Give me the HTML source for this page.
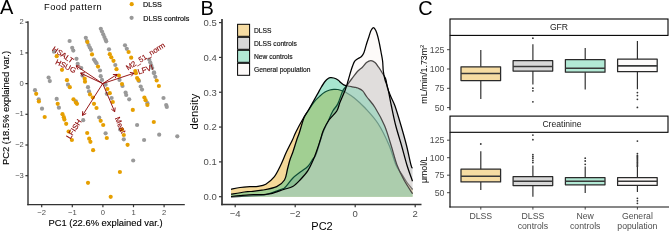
<!DOCTYPE html>
<html><head><meta charset="utf-8"><style>
html,body{margin:0;padding:0;background:#fff;overflow:hidden;}
svg{display:block;will-change:transform;}
text{font-family:"Liberation Sans", sans-serif;}
</style></head><body>
<svg width="669" height="231" viewBox="0 0 669 231">
<rect width="669" height="231" fill="#fff"/>
<text x="0.00" y="14.40" font-size="20" fill="#000" text-anchor="start" >A</text>
<text x="44.00" y="9.70" font-size="9.3" fill="#000" text-anchor="start" textLength="57.6" lengthAdjust="spacing">Food pattern</text>
<circle cx="131.7" cy="4.2" r="2.1" fill="#E69F00"/>
<circle cx="131.6" cy="17.8" r="2.1" fill="#999999"/>
<text x="143.10" y="7.20" font-size="7.2" fill="#111" text-anchor="start" stroke="#111" stroke-width="0.2">DLSS</text>
<text x="143.30" y="20.70" font-size="7.2" fill="#111" text-anchor="start" stroke="#111" stroke-width="0.2">DLSS controls</text>
<line x1="28.00" y1="21.30" x2="28.00" y2="205.30" stroke="#333333" stroke-width="1.4" />
<line x1="27.30" y1="204.60" x2="184.80" y2="204.60" stroke="#333333" stroke-width="1.4" />
<line x1="25.40" y1="22.20" x2="28.00" y2="22.20" stroke="#333333" stroke-width="1.2" />
<text x="23.80" y="24.30" font-size="7.6" fill="#4D4D4D" text-anchor="end" >2</text>
<line x1="25.40" y1="52.90" x2="28.00" y2="52.90" stroke="#333333" stroke-width="1.2" />
<text x="23.80" y="55.00" font-size="7.6" fill="#4D4D4D" text-anchor="end" >1</text>
<line x1="25.40" y1="83.60" x2="28.00" y2="83.60" stroke="#333333" stroke-width="1.2" />
<text x="23.80" y="85.70" font-size="7.6" fill="#4D4D4D" text-anchor="end" >0</text>
<line x1="25.40" y1="114.30" x2="28.00" y2="114.30" stroke="#333333" stroke-width="1.2" />
<text x="23.80" y="116.40" font-size="7.6" fill="#4D4D4D" text-anchor="end" >−1</text>
<line x1="25.40" y1="145.00" x2="28.00" y2="145.00" stroke="#333333" stroke-width="1.2" />
<text x="23.80" y="147.10" font-size="7.6" fill="#4D4D4D" text-anchor="end" >−2</text>
<line x1="25.40" y1="175.70" x2="28.00" y2="175.70" stroke="#333333" stroke-width="1.2" />
<text x="23.80" y="177.80" font-size="7.6" fill="#4D4D4D" text-anchor="end" >−3</text>
<line x1="41.70" y1="204.60" x2="41.70" y2="207.20" stroke="#333333" stroke-width="1.2" />
<text x="41.70" y="215.20" font-size="7.6" fill="#4D4D4D" text-anchor="middle" >−2</text>
<line x1="72.30" y1="204.60" x2="72.30" y2="207.20" stroke="#333333" stroke-width="1.2" />
<text x="72.30" y="215.20" font-size="7.6" fill="#4D4D4D" text-anchor="middle" >−1</text>
<line x1="102.90" y1="204.60" x2="102.90" y2="207.20" stroke="#333333" stroke-width="1.2" />
<text x="102.90" y="215.20" font-size="7.6" fill="#4D4D4D" text-anchor="middle" >0</text>
<line x1="133.50" y1="204.60" x2="133.50" y2="207.20" stroke="#333333" stroke-width="1.2" />
<text x="133.50" y="215.20" font-size="7.6" fill="#4D4D4D" text-anchor="middle" >1</text>
<line x1="164.10" y1="204.60" x2="164.10" y2="207.20" stroke="#333333" stroke-width="1.2" />
<text x="164.10" y="215.20" font-size="7.6" fill="#4D4D4D" text-anchor="middle" >2</text>
<text x="105.50" y="225.60" font-size="9.4" fill="#000" text-anchor="middle" stroke="#000" stroke-width="0.12">PC1 (22.6% explained var.)</text>
<text x="0" y="0" font-size="9.4" fill="#000" stroke="#000" stroke-width="0.12" text-anchor="middle" transform="translate(9.3,108) rotate(-90)">PC2 (18.5% explained var.)</text>
<circle cx="69.6" cy="41" r="2.1" fill="#999999"/>
<circle cx="85.8" cy="37.8" r="2.1" fill="#999999"/>
<circle cx="87" cy="41" r="2.1" fill="#999999"/>
<circle cx="88.6" cy="45" r="2.1" fill="#999999"/>
<circle cx="89.8" cy="47.5" r="2.1" fill="#999999"/>
<circle cx="91" cy="49.8" r="2.1" fill="#999999"/>
<circle cx="100.8" cy="28.8" r="2.1" fill="#999999"/>
<circle cx="102" cy="31.5" r="2.1" fill="#999999"/>
<circle cx="103.2" cy="34.3" r="2.1" fill="#999999"/>
<circle cx="104.4" cy="37" r="2.1" fill="#999999"/>
<circle cx="105.5" cy="39.5" r="2.1" fill="#999999"/>
<circle cx="106.2" cy="41.3" r="2.1" fill="#999999"/>
<circle cx="109" cy="49.3" r="2.1" fill="#999999"/>
<circle cx="125" cy="45.3" r="2.1" fill="#999999"/>
<circle cx="126.8" cy="48.8" r="2.1" fill="#999999"/>
<circle cx="72.2" cy="47.8" r="2.1" fill="#999999"/>
<circle cx="73.3" cy="50.6" r="2.1" fill="#999999"/>
<circle cx="54" cy="51.7" r="2.1" fill="#999999"/>
<circle cx="76.5" cy="58.8" r="2.1" fill="#999999"/>
<circle cx="77.7" cy="63.8" r="2.1" fill="#999999"/>
<circle cx="81.3" cy="68" r="2.1" fill="#999999"/>
<circle cx="94" cy="59.5" r="2.1" fill="#999999"/>
<circle cx="95.2" cy="61.3" r="2.1" fill="#999999"/>
<circle cx="96.5" cy="63.2" r="2.1" fill="#999999"/>
<circle cx="100" cy="70.5" r="2.1" fill="#999999"/>
<circle cx="115.3" cy="65" r="2.1" fill="#999999"/>
<circle cx="149.2" cy="59.5" r="2.1" fill="#999999"/>
<circle cx="150.2" cy="62.3" r="2.1" fill="#999999"/>
<circle cx="151.2" cy="65.2" r="2.1" fill="#999999"/>
<circle cx="152.2" cy="68" r="2.1" fill="#999999"/>
<circle cx="154" cy="72.3" r="2.1" fill="#999999"/>
<circle cx="48.6" cy="77.5" r="2.1" fill="#999999"/>
<circle cx="49.8" cy="81.1" r="2.1" fill="#999999"/>
<circle cx="68" cy="84.7" r="2.1" fill="#999999"/>
<circle cx="35" cy="90.2" r="2.1" fill="#999999"/>
<circle cx="38.7" cy="99.3" r="2.1" fill="#999999"/>
<circle cx="56.7" cy="98.9" r="2.1" fill="#999999"/>
<circle cx="82.5" cy="75.6" r="2.1" fill="#999999"/>
<circle cx="88" cy="87.2" r="2.1" fill="#999999"/>
<circle cx="89" cy="91.4" r="2.1" fill="#999999"/>
<circle cx="100.7" cy="76.2" r="2.1" fill="#999999"/>
<circle cx="102" cy="79.9" r="2.1" fill="#999999"/>
<circle cx="105.6" cy="84.7" r="2.1" fill="#999999"/>
<circle cx="106.8" cy="93.8" r="2.1" fill="#999999"/>
<circle cx="42" cy="108.7" r="2.1" fill="#999999"/>
<circle cx="58.9" cy="107.7" r="2.1" fill="#999999"/>
<circle cx="75.9" cy="101.4" r="2.1" fill="#999999"/>
<circle cx="83.2" cy="120.2" r="2.1" fill="#999999"/>
<circle cx="99.2" cy="117.5" r="2.1" fill="#999999"/>
<circle cx="105.6" cy="133.3" r="2.1" fill="#999999"/>
<circle cx="119.5" cy="79.9" r="2.1" fill="#999999"/>
<circle cx="122.5" cy="86" r="2.1" fill="#999999"/>
<circle cx="125.6" cy="92.6" r="2.1" fill="#999999"/>
<circle cx="126.2" cy="95" r="2.1" fill="#999999"/>
<circle cx="129.2" cy="99.3" r="2.1" fill="#999999"/>
<circle cx="139" cy="81" r="2.1" fill="#999999"/>
<circle cx="140.7" cy="86.5" r="2.1" fill="#999999"/>
<circle cx="142" cy="89.6" r="2.1" fill="#999999"/>
<circle cx="154" cy="73.2" r="2.1" fill="#999999"/>
<circle cx="155.3" cy="76.8" r="2.1" fill="#999999"/>
<circle cx="163.5" cy="98" r="2.1" fill="#999999"/>
<circle cx="111.6" cy="98" r="2.1" fill="#999999"/>
<circle cx="147.4" cy="103.2" r="2.1" fill="#999999"/>
<circle cx="166.2" cy="105" r="2.1" fill="#999999"/>
<circle cx="166.8" cy="106.9" r="2.1" fill="#999999"/>
<circle cx="137.1" cy="125" r="2.1" fill="#999999"/>
<circle cx="120.1" cy="129.6" r="2.1" fill="#999999"/>
<circle cx="123.8" cy="139.3" r="2.1" fill="#999999"/>
<circle cx="144.1" cy="140" r="2.1" fill="#999999"/>
<circle cx="159.2" cy="134.7" r="2.1" fill="#999999"/>
<circle cx="177.3" cy="136.3" r="2.1" fill="#999999"/>
<circle cx="133.2" cy="160.5" r="2.1" fill="#999999"/>
<circle cx="87.4" cy="42.1" r="2.1" fill="#E69F00"/>
<circle cx="92" cy="54.4" r="2.1" fill="#E69F00"/>
<circle cx="109.8" cy="54.2" r="2.1" fill="#E69F00"/>
<circle cx="111.3" cy="57.3" r="2.1" fill="#E69F00"/>
<circle cx="113.5" cy="60.8" r="2.1" fill="#E69F00"/>
<circle cx="128.6" cy="52" r="2.1" fill="#E69F00"/>
<circle cx="131.2" cy="57.7" r="2.1" fill="#E69F00"/>
<circle cx="56.7" cy="56.2" r="2.1" fill="#E69F00"/>
<circle cx="62" cy="69.8" r="2.1" fill="#E69F00"/>
<circle cx="98" cy="66.6" r="2.1" fill="#E69F00"/>
<circle cx="116.5" cy="69.2" r="2.1" fill="#E69F00"/>
<circle cx="135.3" cy="71" r="2.1" fill="#E69F00"/>
<circle cx="67" cy="80.2" r="2.1" fill="#E69F00"/>
<circle cx="69.8" cy="87.2" r="2.1" fill="#E69F00"/>
<circle cx="36.2" cy="93.8" r="2.1" fill="#E69F00"/>
<circle cx="73.5" cy="99.3" r="2.1" fill="#E69F00"/>
<circle cx="84.7" cy="78.7" r="2.1" fill="#E69F00"/>
<circle cx="85" cy="81.7" r="2.1" fill="#E69F00"/>
<circle cx="90" cy="94.4" r="2.1" fill="#E69F00"/>
<circle cx="92.8" cy="97.5" r="2.1" fill="#E69F00"/>
<circle cx="107.4" cy="89" r="2.1" fill="#E69F00"/>
<circle cx="38.9" cy="101.4" r="2.1" fill="#E69F00"/>
<circle cx="44.7" cy="117" r="2.1" fill="#E69F00"/>
<circle cx="57.7" cy="103.8" r="2.1" fill="#E69F00"/>
<circle cx="62.5" cy="114.2" r="2.1" fill="#E69F00"/>
<circle cx="63.8" cy="117.2" r="2.1" fill="#E69F00"/>
<circle cx="64.4" cy="119.6" r="2.1" fill="#E69F00"/>
<circle cx="66.2" cy="123.8" r="2.1" fill="#E69F00"/>
<circle cx="75.9" cy="102.6" r="2.1" fill="#E69F00"/>
<circle cx="77" cy="103.8" r="2.1" fill="#E69F00"/>
<circle cx="94" cy="103.8" r="2.1" fill="#E69F00"/>
<circle cx="96.5" cy="108" r="2.1" fill="#E69F00"/>
<circle cx="100.7" cy="120.8" r="2.1" fill="#E69F00"/>
<circle cx="103.2" cy="125" r="2.1" fill="#E69F00"/>
<circle cx="68.6" cy="131.5" r="2.1" fill="#E69F00"/>
<circle cx="71.9" cy="140" r="2.1" fill="#E69F00"/>
<circle cx="87.2" cy="133" r="2.1" fill="#E69F00"/>
<circle cx="89.2" cy="138.7" r="2.1" fill="#E69F00"/>
<circle cx="90.4" cy="141.8" r="2.1" fill="#E69F00"/>
<circle cx="93.1" cy="150.2" r="2.1" fill="#E69F00"/>
<circle cx="106.8" cy="138" r="2.1" fill="#E69F00"/>
<circle cx="88" cy="182.8" r="2.1" fill="#E69F00"/>
<circle cx="118.9" cy="75.6" r="2.1" fill="#E69F00"/>
<circle cx="122" cy="84.1" r="2.1" fill="#E69F00"/>
<circle cx="135.9" cy="73.2" r="2.1" fill="#E69F00"/>
<circle cx="137.1" cy="78" r="2.1" fill="#E69F00"/>
<circle cx="138.3" cy="79.9" r="2.1" fill="#E69F00"/>
<circle cx="144.4" cy="97.5" r="2.1" fill="#E69F00"/>
<circle cx="156.7" cy="80.5" r="2.1" fill="#E69F00"/>
<circle cx="158.9" cy="86" r="2.1" fill="#E69F00"/>
<circle cx="109.8" cy="93.2" r="2.1" fill="#E69F00"/>
<circle cx="112.8" cy="102" r="2.1" fill="#E69F00"/>
<circle cx="132.8" cy="109.9" r="2.1" fill="#E69F00"/>
<circle cx="145.6" cy="100.2" r="2.1" fill="#E69F00"/>
<circle cx="147.4" cy="105" r="2.1" fill="#E69F00"/>
<circle cx="153.8" cy="122" r="2.1" fill="#E69F00"/>
<circle cx="122" cy="129.6" r="2.1" fill="#E69F00"/>
<circle cx="123.8" cy="135" r="2.1" fill="#E69F00"/>
<circle cx="127.6" cy="144.8" r="2.1" fill="#E69F00"/>
<circle cx="119.9" cy="172" r="2.1" fill="#E69F00"/>
<circle cx="110.7" cy="196.8" r="2.1" fill="#E69F00"/>
<line x1="102.7" y1="83.6" x2="76.1" y2="65.8" stroke="#8B0000" stroke-width="0.9"/>
<line x1="76.1" y1="65.8" x2="77.96" y2="69.57" stroke="#8B0000" stroke-width="0.9"/>
<line x1="76.1" y1="65.8" x2="80.29" y2="66.08" stroke="#8B0000" stroke-width="0.9"/>
<text x="0" y="2.66" font-size="7.6" fill="#8B0000" stroke="#8B0000" stroke-width="0.12" transform="translate(53.09,48.00) rotate(33.79)">HSALT</text>
<line x1="102.7" y1="83.6" x2="80.6" y2="73.0" stroke="#8B0000" stroke-width="0.9"/>
<line x1="80.6" y1="73.0" x2="82.97" y2="76.47" stroke="#8B0000" stroke-width="0.9"/>
<line x1="80.6" y1="73.0" x2="84.79" y2="72.68" stroke="#8B0000" stroke-width="0.9"/>
<text x="0" y="2.66" font-size="7.6" fill="#8B0000" stroke="#8B0000" stroke-width="0.12" transform="translate(55.84,61.31) rotate(25.62)">HSUG</text>
<line x1="102.7" y1="83.6" x2="117.1" y2="74.4" stroke="#8B0000" stroke-width="0.9"/>
<line x1="117.1" y1="74.4" x2="112.90" y2="74.59" stroke="#8B0000" stroke-width="0.9"/>
<line x1="117.1" y1="74.4" x2="115.17" y2="78.13" stroke="#8B0000" stroke-width="0.9"/>
<text x="0" y="2.66" font-size="7.6" fill="#8B0000" stroke="#8B0000" stroke-width="0.12" transform="translate(126.53,68.37) rotate(-32.57)">M2_51_norm</text>
<line x1="102.7" y1="83.6" x2="134.0" y2="73.2" stroke="#8B0000" stroke-width="0.9"/>
<line x1="134.0" y1="73.2" x2="129.89" y2="72.35" stroke="#8B0000" stroke-width="0.9"/>
<line x1="134.0" y1="73.2" x2="131.21" y2="76.34" stroke="#8B0000" stroke-width="0.9"/>
<text x="0" y="2.66" font-size="7.6" fill="#8B0000" stroke="#8B0000" stroke-width="0.12" transform="translate(137.81,71.93) rotate(-18.38)">LFVI</text>
<line x1="102.7" y1="83.6" x2="82.5" y2="115.4" stroke="#8B0000" stroke-width="0.9"/>
<line x1="82.5" y1="115.4" x2="86.22" y2="113.46" stroke="#8B0000" stroke-width="0.9"/>
<line x1="82.5" y1="115.4" x2="82.68" y2="111.20" stroke="#8B0000" stroke-width="0.9"/>
<text x="0" y="2.66" font-size="7.6" fill="#8B0000" stroke="#8B0000" stroke-width="0.12" transform="translate(68.06,138.13) rotate(-57.58)">LFISH</text>
<line x1="102.7" y1="83.6" x2="114.7" y2="111.7" stroke="#8B0000" stroke-width="0.9"/>
<line x1="114.7" y1="111.7" x2="115.20" y2="107.53" stroke="#8B0000" stroke-width="0.9"/>
<line x1="114.7" y1="111.7" x2="111.34" y2="109.18" stroke="#8B0000" stroke-width="0.9"/>
<text x="0" y="2.66" font-size="7.6" fill="#8B0000" stroke="#8B0000" stroke-width="0.12" transform="translate(117.09,117.29) rotate(66.88)">Meat</text>
<text x="200.60" y="14.80" font-size="20" fill="#000" text-anchor="start" >B</text>
<path d="M231.00,189.30 C232.50,189.00 236.83,187.95 240.00,187.50 C243.17,187.05 247.00,186.80 250.00,186.60 C253.00,186.40 255.37,186.70 258.00,186.30 C260.63,185.90 263.10,185.77 265.80,184.20 C268.50,182.63 271.78,179.93 274.20,176.90 C276.62,173.87 278.27,170.13 280.30,166.00 C282.33,161.87 284.38,156.43 286.40,152.10 C288.42,147.77 290.82,143.35 292.40,140.00 C293.98,136.65 294.15,135.50 295.90,132.00 C297.65,128.50 300.82,122.58 302.90,119.00 C304.98,115.42 306.55,113.33 308.40,110.50 C310.25,107.67 312.08,104.42 314.00,102.00 C315.92,99.58 318.07,97.67 319.90,96.00 C321.73,94.33 323.35,93.00 325.00,92.00 C326.65,91.00 328.33,90.45 329.80,90.00 C331.27,89.55 332.47,89.38 333.80,89.30 C335.13,89.22 336.32,89.22 337.80,89.50 C339.28,89.78 341.38,90.53 342.70,91.00 C344.02,91.47 343.77,91.15 345.70,92.30 C347.63,93.45 351.07,95.28 354.30,97.90 C357.53,100.52 361.15,103.73 365.10,108.00 C369.05,112.27 374.02,117.33 378.00,123.50 C381.98,129.67 386.00,138.08 389.00,145.00 C392.00,151.92 394.00,160.33 396.00,165.00 C398.00,169.67 399.33,170.33 401.00,173.00 C402.67,175.67 404.08,178.25 406.00,181.00 C407.92,183.75 411.42,188.08 412.50,189.50 L412.5,196.7 L231.0,196.7 Z" fill="#E69F00" fill-opacity="0.4" stroke="none"/>
<path d="M231.00,189.30 C232.50,189.00 236.83,187.95 240.00,187.50 C243.17,187.05 247.00,186.80 250.00,186.60 C253.00,186.40 255.37,186.70 258.00,186.30 C260.63,185.90 263.10,185.77 265.80,184.20 C268.50,182.63 271.78,179.93 274.20,176.90 C276.62,173.87 278.27,170.13 280.30,166.00 C282.33,161.87 284.38,156.43 286.40,152.10 C288.42,147.77 290.82,143.35 292.40,140.00 C293.98,136.65 294.15,135.50 295.90,132.00 C297.65,128.50 300.82,122.58 302.90,119.00 C304.98,115.42 306.55,113.33 308.40,110.50 C310.25,107.67 312.08,104.42 314.00,102.00 C315.92,99.58 318.07,97.67 319.90,96.00 C321.73,94.33 323.35,93.00 325.00,92.00 C326.65,91.00 328.33,90.45 329.80,90.00 C331.27,89.55 332.47,89.38 333.80,89.30 C335.13,89.22 336.32,89.22 337.80,89.50 C339.28,89.78 341.38,90.53 342.70,91.00 C344.02,91.47 343.77,91.15 345.70,92.30 C347.63,93.45 351.07,95.28 354.30,97.90 C357.53,100.52 361.15,103.73 365.10,108.00 C369.05,112.27 374.02,117.33 378.00,123.50 C381.98,129.67 386.00,138.08 389.00,145.00 C392.00,151.92 394.00,160.33 396.00,165.00 C398.00,169.67 399.33,170.33 401.00,173.00 C402.67,175.67 404.08,178.25 406.00,181.00 C407.92,183.75 411.42,188.08 412.50,189.50" fill="none" stroke="#000" stroke-width="1.25"/>
<path d="M231.00,197.00 C234.17,196.80 244.33,196.17 250.00,195.80 C255.67,195.43 259.65,195.93 265.00,194.80 C270.35,193.67 278.73,190.25 282.10,189.00 C285.47,187.75 283.43,189.10 285.20,187.30 C286.97,185.50 290.18,180.73 292.70,178.20 C295.22,175.67 297.75,174.10 300.30,172.10 C302.85,170.10 305.88,168.42 308.00,166.20 C310.12,163.98 311.67,160.75 313.00,158.80 C314.33,156.85 314.37,158.80 316.00,154.50 C317.63,150.20 320.83,138.42 322.80,133.00 C324.77,127.58 326.13,125.67 327.80,122.00 C329.47,118.33 331.13,114.02 332.80,111.00 C334.47,107.98 336.15,107.23 337.80,103.90 C339.45,100.57 341.13,94.12 342.70,91.00 C344.27,87.88 345.65,87.28 347.20,85.20 C348.75,83.12 350.22,80.87 352.00,78.50 C353.78,76.13 356.17,72.88 357.90,71.00 C359.63,69.12 360.97,68.62 362.40,67.20 C363.83,65.78 365.08,63.62 366.50,62.50 C367.92,61.38 369.48,60.50 370.90,60.50 C372.32,60.50 373.72,61.38 375.00,62.50 C376.28,63.62 377.48,65.62 378.60,67.20 C379.72,68.78 380.52,70.03 381.70,72.00 C382.88,73.97 384.73,76.33 385.70,79.00 C386.67,81.67 386.62,85.00 387.50,88.00 C388.38,91.00 389.75,94.00 391.00,97.00 C392.25,100.00 393.33,101.25 395.00,106.00 C396.67,110.75 399.10,119.00 401.00,125.50 C402.90,132.00 404.73,138.42 406.40,145.00 C408.07,151.58 409.98,161.13 411.00,165.00 C412.02,168.87 412.25,167.67 412.50,168.20 L412.5,196.7 L231.0,196.7 Z" fill="#999999" fill-opacity="0.4" stroke="none"/>
<path d="M231.00,197.00 C234.17,196.80 244.33,196.17 250.00,195.80 C255.67,195.43 259.65,195.93 265.00,194.80 C270.35,193.67 278.73,190.25 282.10,189.00 C285.47,187.75 283.43,189.10 285.20,187.30 C286.97,185.50 290.18,180.73 292.70,178.20 C295.22,175.67 297.75,174.10 300.30,172.10 C302.85,170.10 305.88,168.42 308.00,166.20 C310.12,163.98 311.67,160.75 313.00,158.80 C314.33,156.85 314.37,158.80 316.00,154.50 C317.63,150.20 320.83,138.42 322.80,133.00 C324.77,127.58 326.13,125.67 327.80,122.00 C329.47,118.33 331.13,114.02 332.80,111.00 C334.47,107.98 336.15,107.23 337.80,103.90 C339.45,100.57 341.13,94.12 342.70,91.00 C344.27,87.88 345.65,87.28 347.20,85.20 C348.75,83.12 350.22,80.87 352.00,78.50 C353.78,76.13 356.17,72.88 357.90,71.00 C359.63,69.12 360.97,68.62 362.40,67.20 C363.83,65.78 365.08,63.62 366.50,62.50 C367.92,61.38 369.48,60.50 370.90,60.50 C372.32,60.50 373.72,61.38 375.00,62.50 C376.28,63.62 377.48,65.62 378.60,67.20 C379.72,68.78 380.52,70.03 381.70,72.00 C382.88,73.97 384.73,76.33 385.70,79.00 C386.67,81.67 386.62,85.00 387.50,88.00 C388.38,91.00 389.75,94.00 391.00,97.00 C392.25,100.00 393.33,101.25 395.00,106.00 C396.67,110.75 399.10,119.00 401.00,125.50 C402.90,132.00 404.73,138.42 406.40,145.00 C408.07,151.58 409.98,161.13 411.00,165.00 C412.02,168.87 412.25,167.67 412.50,168.20" fill="none" stroke="#000" stroke-width="1.25"/>
<path d="M231.00,194.20 C233.23,193.83 241.23,192.45 244.40,192.00 C247.57,191.55 247.05,191.80 250.00,191.50 C252.95,191.20 257.65,191.02 262.10,190.20 C266.55,189.38 272.97,188.30 276.70,186.60 C280.43,184.90 282.70,182.93 284.50,180.00 C286.30,177.07 286.60,172.33 287.50,169.00 C288.40,165.67 289.00,162.83 289.90,160.00 C290.80,157.17 291.77,155.33 292.90,152.00 C294.03,148.67 295.62,143.25 296.70,140.00 C297.78,136.75 298.20,136.17 299.40,132.50 C300.60,128.83 302.48,121.58 303.90,118.00 C305.32,114.42 305.67,114.93 307.90,111.00 C310.13,107.07 315.15,98.23 317.30,94.40 C319.45,90.57 319.52,90.15 320.80,88.00 C322.08,85.85 323.72,83.12 325.00,81.50 C326.28,79.88 327.58,78.93 328.50,78.30 C329.42,77.67 329.62,77.75 330.50,77.70 C331.38,77.65 332.55,77.62 333.80,78.00 C335.05,78.38 336.80,79.20 338.00,80.00 C339.20,80.80 340.03,81.98 341.00,82.80 C341.97,83.62 342.67,84.37 343.80,84.90 C344.93,85.43 346.43,85.68 347.80,86.00 C349.17,86.32 350.68,86.57 352.00,86.80 C353.32,87.03 354.72,87.20 355.70,87.40 C356.68,87.60 356.73,87.42 357.90,88.00 C359.07,88.58 361.20,89.40 362.70,90.90 C364.20,92.40 364.85,94.23 366.90,97.00 C368.95,99.77 372.07,102.75 375.00,107.50 C377.93,112.25 381.83,119.25 384.50,125.50 C387.17,131.75 388.92,138.42 391.00,145.00 C393.08,151.58 394.83,159.17 397.00,165.00 C399.17,170.83 401.42,175.23 404.00,180.00 C406.58,184.77 411.08,191.33 412.50,193.60 L412.5,196.7 L231.0,196.7 Z" fill="#22C088" fill-opacity="0.4" stroke="none"/>
<path d="M231.00,194.20 C233.23,193.83 241.23,192.45 244.40,192.00 C247.57,191.55 247.05,191.80 250.00,191.50 C252.95,191.20 257.65,191.02 262.10,190.20 C266.55,189.38 272.97,188.30 276.70,186.60 C280.43,184.90 282.70,182.93 284.50,180.00 C286.30,177.07 286.60,172.33 287.50,169.00 C288.40,165.67 289.00,162.83 289.90,160.00 C290.80,157.17 291.77,155.33 292.90,152.00 C294.03,148.67 295.62,143.25 296.70,140.00 C297.78,136.75 298.20,136.17 299.40,132.50 C300.60,128.83 302.48,121.58 303.90,118.00 C305.32,114.42 305.67,114.93 307.90,111.00 C310.13,107.07 315.15,98.23 317.30,94.40 C319.45,90.57 319.52,90.15 320.80,88.00 C322.08,85.85 323.72,83.12 325.00,81.50 C326.28,79.88 327.58,78.93 328.50,78.30 C329.42,77.67 329.62,77.75 330.50,77.70 C331.38,77.65 332.55,77.62 333.80,78.00 C335.05,78.38 336.80,79.20 338.00,80.00 C339.20,80.80 340.03,81.98 341.00,82.80 C341.97,83.62 342.67,84.37 343.80,84.90 C344.93,85.43 346.43,85.68 347.80,86.00 C349.17,86.32 350.68,86.57 352.00,86.80 C353.32,87.03 354.72,87.20 355.70,87.40 C356.68,87.60 356.73,87.42 357.90,88.00 C359.07,88.58 361.20,89.40 362.70,90.90 C364.20,92.40 364.85,94.23 366.90,97.00 C368.95,99.77 372.07,102.75 375.00,107.50 C377.93,112.25 381.83,119.25 384.50,125.50 C387.17,131.75 388.92,138.42 391.00,145.00 C393.08,151.58 394.83,159.17 397.00,165.00 C399.17,170.83 401.42,175.23 404.00,180.00 C406.58,184.77 411.08,191.33 412.50,193.60" fill="none" stroke="#000" stroke-width="1.25"/>
<path d="M231.00,196.50 C232.50,196.35 237.00,195.88 240.00,195.60 C243.00,195.32 246.33,194.95 249.00,194.80 C251.67,194.65 253.83,194.73 256.00,194.70 C258.17,194.67 259.50,194.77 262.00,194.60 C264.50,194.43 267.40,194.55 271.00,193.70 C274.60,192.85 279.98,190.70 283.60,189.50 C287.22,188.30 289.92,188.13 292.70,186.50 C295.48,184.87 297.77,182.35 300.30,179.70 C302.83,177.05 305.75,173.88 307.90,170.60 C310.05,167.32 311.68,163.43 313.20,160.00 C314.72,156.57 315.82,153.33 317.00,150.00 C318.18,146.67 319.22,143.33 320.30,140.00 C321.38,136.67 322.05,133.33 323.50,130.00 C324.95,126.67 326.78,123.17 329.00,120.00 C331.22,116.83 334.97,113.95 336.80,111.00 C338.63,108.05 338.57,105.88 340.00,102.30 C341.43,98.72 344.05,93.08 345.40,89.50 C346.75,85.92 347.13,84.05 348.10,80.80 C349.07,77.55 350.17,73.15 351.20,70.00 C352.23,66.85 353.33,63.70 354.30,61.90 C355.27,60.10 355.80,60.10 357.00,59.20 C358.20,58.30 360.33,57.62 361.50,56.50 C362.67,55.38 363.17,54.58 364.00,52.50 C364.83,50.42 365.67,46.67 366.50,44.00 C367.33,41.33 368.25,38.75 369.00,36.50 C369.75,34.25 370.25,32.00 371.00,30.50 C371.75,29.00 372.70,27.50 373.50,27.50 C374.30,27.50 375.08,29.00 375.80,30.50 C376.52,32.00 377.18,34.25 377.80,36.50 C378.42,38.75 378.95,41.33 379.50,44.00 C380.05,46.67 380.58,49.67 381.10,52.50 C381.62,55.33 382.23,57.92 382.60,61.00 C382.97,64.08 382.93,68.00 383.30,71.00 C383.67,74.00 384.02,76.00 384.80,79.00 C385.58,82.00 386.90,84.50 388.00,89.00 C389.10,93.50 390.12,99.92 391.40,106.00 C392.68,112.08 394.03,119.00 395.70,125.50 C397.37,132.00 399.53,138.42 401.40,145.00 C403.27,151.58 405.05,158.97 406.90,165.00 C408.75,171.03 411.57,178.50 412.50,181.20 L412.5,196.7 L231.0,196.7 Z" fill="#F8EEEB" fill-opacity="0.3" stroke="none"/>
<path d="M231.00,196.50 C232.50,196.35 237.00,195.88 240.00,195.60 C243.00,195.32 246.33,194.95 249.00,194.80 C251.67,194.65 253.83,194.73 256.00,194.70 C258.17,194.67 259.50,194.77 262.00,194.60 C264.50,194.43 267.40,194.55 271.00,193.70 C274.60,192.85 279.98,190.70 283.60,189.50 C287.22,188.30 289.92,188.13 292.70,186.50 C295.48,184.87 297.77,182.35 300.30,179.70 C302.83,177.05 305.75,173.88 307.90,170.60 C310.05,167.32 311.68,163.43 313.20,160.00 C314.72,156.57 315.82,153.33 317.00,150.00 C318.18,146.67 319.22,143.33 320.30,140.00 C321.38,136.67 322.05,133.33 323.50,130.00 C324.95,126.67 326.78,123.17 329.00,120.00 C331.22,116.83 334.97,113.95 336.80,111.00 C338.63,108.05 338.57,105.88 340.00,102.30 C341.43,98.72 344.05,93.08 345.40,89.50 C346.75,85.92 347.13,84.05 348.10,80.80 C349.07,77.55 350.17,73.15 351.20,70.00 C352.23,66.85 353.33,63.70 354.30,61.90 C355.27,60.10 355.80,60.10 357.00,59.20 C358.20,58.30 360.33,57.62 361.50,56.50 C362.67,55.38 363.17,54.58 364.00,52.50 C364.83,50.42 365.67,46.67 366.50,44.00 C367.33,41.33 368.25,38.75 369.00,36.50 C369.75,34.25 370.25,32.00 371.00,30.50 C371.75,29.00 372.70,27.50 373.50,27.50 C374.30,27.50 375.08,29.00 375.80,30.50 C376.52,32.00 377.18,34.25 377.80,36.50 C378.42,38.75 378.95,41.33 379.50,44.00 C380.05,46.67 380.58,49.67 381.10,52.50 C381.62,55.33 382.23,57.92 382.60,61.00 C382.97,64.08 382.93,68.00 383.30,71.00 C383.67,74.00 384.02,76.00 384.80,79.00 C385.58,82.00 386.90,84.50 388.00,89.00 C389.10,93.50 390.12,99.92 391.40,106.00 C392.68,112.08 394.03,119.00 395.70,125.50 C397.37,132.00 399.53,138.42 401.40,145.00 C403.27,151.58 405.05,158.97 406.90,165.00 C408.75,171.03 411.57,178.50 412.50,181.20" fill="none" stroke="#000" stroke-width="1.25"/>
<line x1="222.00" y1="19.00" x2="222.00" y2="205.30" stroke="#333333" stroke-width="1.7" />
<line x1="221.20" y1="204.50" x2="421.50" y2="204.50" stroke="#333333" stroke-width="1.6" />
<line x1="219.00" y1="196.70" x2="222.00" y2="196.70" stroke="#333333" stroke-width="1.2" />
<text x="216.80" y="200.00" font-size="9.5" fill="#4D4D4D" text-anchor="end" >0.0</text>
<line x1="219.00" y1="161.88" x2="222.00" y2="161.88" stroke="#333333" stroke-width="1.2" />
<text x="216.80" y="165.18" font-size="9.5" fill="#4D4D4D" text-anchor="end" >0.1</text>
<line x1="219.00" y1="127.06" x2="222.00" y2="127.06" stroke="#333333" stroke-width="1.2" />
<text x="216.80" y="130.36" font-size="9.5" fill="#4D4D4D" text-anchor="end" >0.2</text>
<line x1="219.00" y1="92.24" x2="222.00" y2="92.24" stroke="#333333" stroke-width="1.2" />
<text x="216.80" y="95.54" font-size="9.5" fill="#4D4D4D" text-anchor="end" >0.3</text>
<line x1="219.00" y1="57.42" x2="222.00" y2="57.42" stroke="#333333" stroke-width="1.2" />
<text x="216.80" y="60.72" font-size="9.5" fill="#4D4D4D" text-anchor="end" >0.4</text>
<line x1="219.00" y1="22.60" x2="222.00" y2="22.60" stroke="#333333" stroke-width="1.2" />
<text x="216.80" y="25.90" font-size="9.5" fill="#4D4D4D" text-anchor="end" >0.5</text>
<line x1="235.20" y1="204.50" x2="235.20" y2="207.20" stroke="#333333" stroke-width="1.2" />
<text x="235.20" y="217.30" font-size="9.5" fill="#4D4D4D" text-anchor="middle" >−4</text>
<line x1="295.20" y1="204.50" x2="295.20" y2="207.20" stroke="#333333" stroke-width="1.2" />
<text x="295.20" y="217.30" font-size="9.5" fill="#4D4D4D" text-anchor="middle" >−2</text>
<line x1="355.20" y1="204.50" x2="355.20" y2="207.20" stroke="#333333" stroke-width="1.2" />
<text x="355.20" y="217.30" font-size="9.5" fill="#4D4D4D" text-anchor="middle" >0</text>
<line x1="415.20" y1="204.50" x2="415.20" y2="207.20" stroke="#333333" stroke-width="1.2" />
<text x="415.20" y="217.30" font-size="9.5" fill="#4D4D4D" text-anchor="middle" >2</text>
<text x="0" y="0" font-size="11.3" fill="#000" text-anchor="middle" transform="translate(197.8,111.6) rotate(-90)">density</text>
<text x="322.00" y="229.50" font-size="11.0" fill="#000" text-anchor="middle" >PC2</text>
<rect x="237.6" y="24.30" width="12" height="12" fill="#E69F00" fill-opacity="0.36" stroke="#000" stroke-width="1.0"/>
<text x="254.00" y="32.80" font-size="6.7" fill="#111" text-anchor="start" stroke="#111" stroke-width="0.15">DLSS</text>
<rect x="237.6" y="37.30" width="12" height="12" fill="#999999" fill-opacity="0.38" stroke="#000" stroke-width="1.0"/>
<text x="254.00" y="45.80" font-size="6.7" fill="#111" text-anchor="start" stroke="#111" stroke-width="0.15">DLSS controls</text>
<rect x="237.6" y="50.30" width="12" height="12" fill="#22C088" fill-opacity="0.35" stroke="#000" stroke-width="1.0"/>
<text x="254.00" y="58.80" font-size="6.7" fill="#111" text-anchor="start" stroke="#111" stroke-width="0.15">New controls</text>
<rect x="237.6" y="63.30" width="12" height="12" fill="#F8EEEB" fill-opacity="0.3" stroke="#000" stroke-width="1.0"/>
<text x="254.00" y="71.80" font-size="6.7" fill="#111" text-anchor="start" stroke="#111" stroke-width="0.15">General population</text>
<text x="418.30" y="14.80" font-size="20" fill="#000" text-anchor="start" >C</text>
<rect x="450.0" y="19.0" width="218.00" height="16.40" fill="#fff" stroke="#000" stroke-width="1.1"/>
<text x="559.00" y="30.20" font-size="8.6" fill="#1A1A1A" text-anchor="middle" >GFR</text>
<rect x="450.0" y="116.1" width="218.00" height="16.20" fill="#fff" stroke="#000" stroke-width="1.1"/>
<text x="562.00" y="127.20" font-size="8.6" fill="#1A1A1A" text-anchor="middle" >Creatinine</text>
<line x1="450.00" y1="35.40" x2="450.00" y2="110.30" stroke="#111" stroke-width="1.2" />
<line x1="450.00" y1="132.30" x2="450.00" y2="207.60" stroke="#111" stroke-width="1.2" />
<line x1="449.40" y1="207.00" x2="669.00" y2="207.00" stroke="#111" stroke-width="1.2" />
<line x1="447.00" y1="107.60" x2="450.00" y2="107.60" stroke="#333333" stroke-width="0.9" />
<text x="444.50" y="110.60" font-size="8.8" fill="#4D4D4D" text-anchor="end" >50</text>
<line x1="447.00" y1="192.70" x2="450.00" y2="192.70" stroke="#333333" stroke-width="0.9" />
<text x="444.50" y="195.70" font-size="8.8" fill="#4D4D4D" text-anchor="end" >50</text>
<line x1="447.00" y1="88.30" x2="450.00" y2="88.30" stroke="#333333" stroke-width="0.9" />
<text x="444.50" y="91.30" font-size="8.8" fill="#4D4D4D" text-anchor="end" >75</text>
<line x1="447.00" y1="175.20" x2="450.00" y2="175.20" stroke="#333333" stroke-width="0.9" />
<text x="444.50" y="178.20" font-size="8.8" fill="#4D4D4D" text-anchor="end" >75</text>
<line x1="447.00" y1="69.00" x2="450.00" y2="69.00" stroke="#333333" stroke-width="0.9" />
<text x="444.50" y="72.00" font-size="8.8" fill="#4D4D4D" text-anchor="end" >100</text>
<line x1="447.00" y1="157.70" x2="450.00" y2="157.70" stroke="#333333" stroke-width="0.9" />
<text x="444.50" y="160.70" font-size="8.8" fill="#4D4D4D" text-anchor="end" >100</text>
<line x1="447.00" y1="49.70" x2="450.00" y2="49.70" stroke="#333333" stroke-width="0.9" />
<text x="444.50" y="52.70" font-size="8.8" fill="#4D4D4D" text-anchor="end" >125</text>
<line x1="447.00" y1="140.20" x2="450.00" y2="140.20" stroke="#333333" stroke-width="0.9" />
<text x="444.50" y="143.20" font-size="8.8" fill="#4D4D4D" text-anchor="end" >125</text>
<text x="0" y="0" font-size="8.8" fill="#000" text-anchor="middle" transform="translate(427.2,74.2) rotate(-90)">mL/min/1.73m<tspan font-size="5.8" dy="-3.2">2</tspan></text>
<text x="0" y="0" font-size="8.8" fill="#000" text-anchor="middle" transform="translate(427.2,169.8) rotate(-90)">μmol/L</text>
<line x1="480.80" y1="50.10" x2="480.80" y2="66.80" stroke="#2A2A2A" stroke-width="1.15" />
<line x1="480.80" y1="80.60" x2="480.80" y2="99.10" stroke="#2A2A2A" stroke-width="1.15" />
<rect x="461.00" y="66.80" width="39.6" height="13.80" fill="#E69F00" fill-opacity="0.36" stroke="#2A2A2A" stroke-width="1.25" stroke-linejoin="round"/>
<line x1="461.00" y1="73.50" x2="500.60" y2="73.50" stroke="#383838" stroke-width="1.6" />
<line x1="532.90" y1="44.30" x2="532.90" y2="60.70" stroke="#2A2A2A" stroke-width="1.15" />
<line x1="532.90" y1="71.10" x2="532.90" y2="84.50" stroke="#2A2A2A" stroke-width="1.15" />
<rect x="513.10" y="60.70" width="39.6" height="10.40" fill="#999999" fill-opacity="0.38" stroke="#2A2A2A" stroke-width="1.25" stroke-linejoin="round"/>
<line x1="513.10" y1="66.50" x2="552.70" y2="66.50" stroke="#383838" stroke-width="1.6" />
<circle cx="532.9" cy="38.2" r="0.9" fill="#333"/>
<circle cx="532.9" cy="88.2" r="0.9" fill="#333"/>
<circle cx="532.9" cy="90.8" r="0.9" fill="#333"/>
<circle cx="532.9" cy="101.8" r="0.9" fill="#333"/>
<line x1="585.20" y1="47.90" x2="585.20" y2="59.60" stroke="#2A2A2A" stroke-width="1.15" />
<line x1="585.20" y1="72.20" x2="585.20" y2="89.60" stroke="#2A2A2A" stroke-width="1.15" />
<rect x="565.40" y="59.60" width="39.6" height="12.60" fill="#22C088" fill-opacity="0.35" stroke="#2A2A2A" stroke-width="1.25" stroke-linejoin="round"/>
<line x1="565.40" y1="68.30" x2="605.00" y2="68.30" stroke="#383838" stroke-width="1.6" />
<line x1="637.40" y1="41.10" x2="637.40" y2="59.10" stroke="#2A2A2A" stroke-width="1.15" />
<line x1="637.40" y1="71.70" x2="637.40" y2="89.30" stroke="#2A2A2A" stroke-width="1.15" />
<rect x="617.60" y="59.10" width="39.6" height="12.60" fill="#F8EEEB" fill-opacity="0.3" stroke="#2A2A2A" stroke-width="1.25" stroke-linejoin="round"/>
<line x1="617.60" y1="65.90" x2="657.20" y2="65.90" stroke="#383838" stroke-width="1.6" />
<circle cx="637.4" cy="92.6" r="0.9" fill="#333"/>
<circle cx="637.4" cy="95.6" r="0.9" fill="#333"/>
<circle cx="637.4" cy="99.3" r="0.9" fill="#333"/>
<circle cx="637.4" cy="107.4" r="0.9" fill="#333"/>
<line x1="480.80" y1="151.20" x2="480.80" y2="169.20" stroke="#2A2A2A" stroke-width="1.15" />
<line x1="480.80" y1="181.90" x2="480.80" y2="189.90" stroke="#2A2A2A" stroke-width="1.15" />
<rect x="461.00" y="169.20" width="39.6" height="12.70" fill="#E69F00" fill-opacity="0.36" stroke="#2A2A2A" stroke-width="1.25" stroke-linejoin="round"/>
<line x1="461.00" y1="176.20" x2="500.60" y2="176.20" stroke="#383838" stroke-width="1.6" />
<circle cx="480.8" cy="144.0" r="0.9" fill="#333"/>
<line x1="532.90" y1="165.50" x2="532.90" y2="176.70" stroke="#2A2A2A" stroke-width="1.15" />
<line x1="532.90" y1="185.50" x2="532.90" y2="196.80" stroke="#2A2A2A" stroke-width="1.15" />
<rect x="513.10" y="176.70" width="39.6" height="8.80" fill="#999999" fill-opacity="0.38" stroke="#2A2A2A" stroke-width="1.25" stroke-linejoin="round"/>
<line x1="513.10" y1="181.30" x2="552.70" y2="181.30" stroke="#383838" stroke-width="1.6" />
<circle cx="532.9" cy="135.1" r="0.9" fill="#333"/>
<circle cx="532.9" cy="139.7" r="0.9" fill="#333"/>
<circle cx="532.9" cy="154.6" r="0.9" fill="#333"/>
<circle cx="532.9" cy="156.4" r="0.9" fill="#333"/>
<circle cx="532.9" cy="158.2" r="0.9" fill="#333"/>
<circle cx="532.9" cy="160.3" r="0.9" fill="#333"/>
<circle cx="532.9" cy="162.5" r="0.9" fill="#333"/>
<line x1="585.20" y1="166.50" x2="585.20" y2="177.60" stroke="#2A2A2A" stroke-width="1.15" />
<line x1="585.20" y1="184.80" x2="585.20" y2="193.00" stroke="#2A2A2A" stroke-width="1.15" />
<rect x="565.40" y="177.60" width="39.6" height="7.20" fill="#22C088" fill-opacity="0.35" stroke="#2A2A2A" stroke-width="1.25" stroke-linejoin="round"/>
<line x1="565.40" y1="181.30" x2="605.00" y2="181.30" stroke="#383838" stroke-width="1.6" />
<circle cx="585.2" cy="158.2" r="0.9" fill="#333"/>
<circle cx="585.2" cy="161.0" r="0.9" fill="#333"/>
<circle cx="585.2" cy="164.3" r="0.9" fill="#333"/>
<line x1="637.40" y1="166.00" x2="637.40" y2="177.60" stroke="#2A2A2A" stroke-width="1.15" />
<line x1="637.40" y1="185.40" x2="637.40" y2="192.00" stroke="#2A2A2A" stroke-width="1.15" />
<rect x="617.60" y="177.60" width="39.6" height="7.80" fill="#F8EEEB" fill-opacity="0.3" stroke="#2A2A2A" stroke-width="1.25" stroke-linejoin="round"/>
<line x1="617.60" y1="181.30" x2="657.20" y2="181.30" stroke="#383838" stroke-width="1.6" />
<circle cx="637.4" cy="141.1" r="0.9" fill="#333"/>
<circle cx="637.4" cy="153.6" r="0.9" fill="#333"/>
<circle cx="637.4" cy="155.4" r="0.9" fill="#333"/>
<circle cx="637.4" cy="156.4" r="0.9" fill="#333"/>
<circle cx="637.4" cy="157.5" r="0.9" fill="#333"/>
<circle cx="637.4" cy="158.6" r="0.9" fill="#333"/>
<circle cx="637.4" cy="159.70000000000002" r="0.9" fill="#333"/>
<circle cx="637.4" cy="160.8" r="0.9" fill="#333"/>
<circle cx="637.4" cy="161.9" r="0.9" fill="#333"/>
<circle cx="637.4" cy="163.0" r="0.9" fill="#333"/>
<circle cx="637.4" cy="164.1" r="0.9" fill="#333"/>
<circle cx="637.4" cy="165.20000000000002" r="0.9" fill="#333"/>
<circle cx="637.4" cy="166.3" r="0.9" fill="#333"/>
<circle cx="637.4" cy="198.3" r="0.9" fill="#333"/>
<circle cx="637.4" cy="200.8" r="0.9" fill="#333"/>
<circle cx="637.4" cy="203.3" r="0.9" fill="#333"/>
<line x1="480.80" y1="207.00" x2="480.80" y2="209.60" stroke="#333333" stroke-width="0.9" />
<line x1="532.90" y1="207.00" x2="532.90" y2="209.60" stroke="#333333" stroke-width="0.9" />
<line x1="585.20" y1="207.00" x2="585.20" y2="209.60" stroke="#333333" stroke-width="0.9" />
<line x1="637.40" y1="207.00" x2="637.40" y2="209.60" stroke="#333333" stroke-width="0.9" />
<text x="480.80" y="219.00" font-size="8.7" fill="#4D4D4D" text-anchor="middle" >DLSS</text>
<text x="532.90" y="219.00" font-size="8.7" fill="#4D4D4D" text-anchor="middle" >DLSS</text>
<text x="532.90" y="229.10" font-size="8.7" fill="#4D4D4D" text-anchor="middle" >controls</text>
<text x="585.20" y="219.00" font-size="8.7" fill="#4D4D4D" text-anchor="middle" >New</text>
<text x="585.20" y="229.10" font-size="8.7" fill="#4D4D4D" text-anchor="middle" >controls</text>
<text x="637.40" y="219.00" font-size="8.7" fill="#4D4D4D" text-anchor="middle" >General</text>
<text x="637.40" y="229.10" font-size="8.7" fill="#4D4D4D" text-anchor="middle" >population</text>
</svg></body></html>
